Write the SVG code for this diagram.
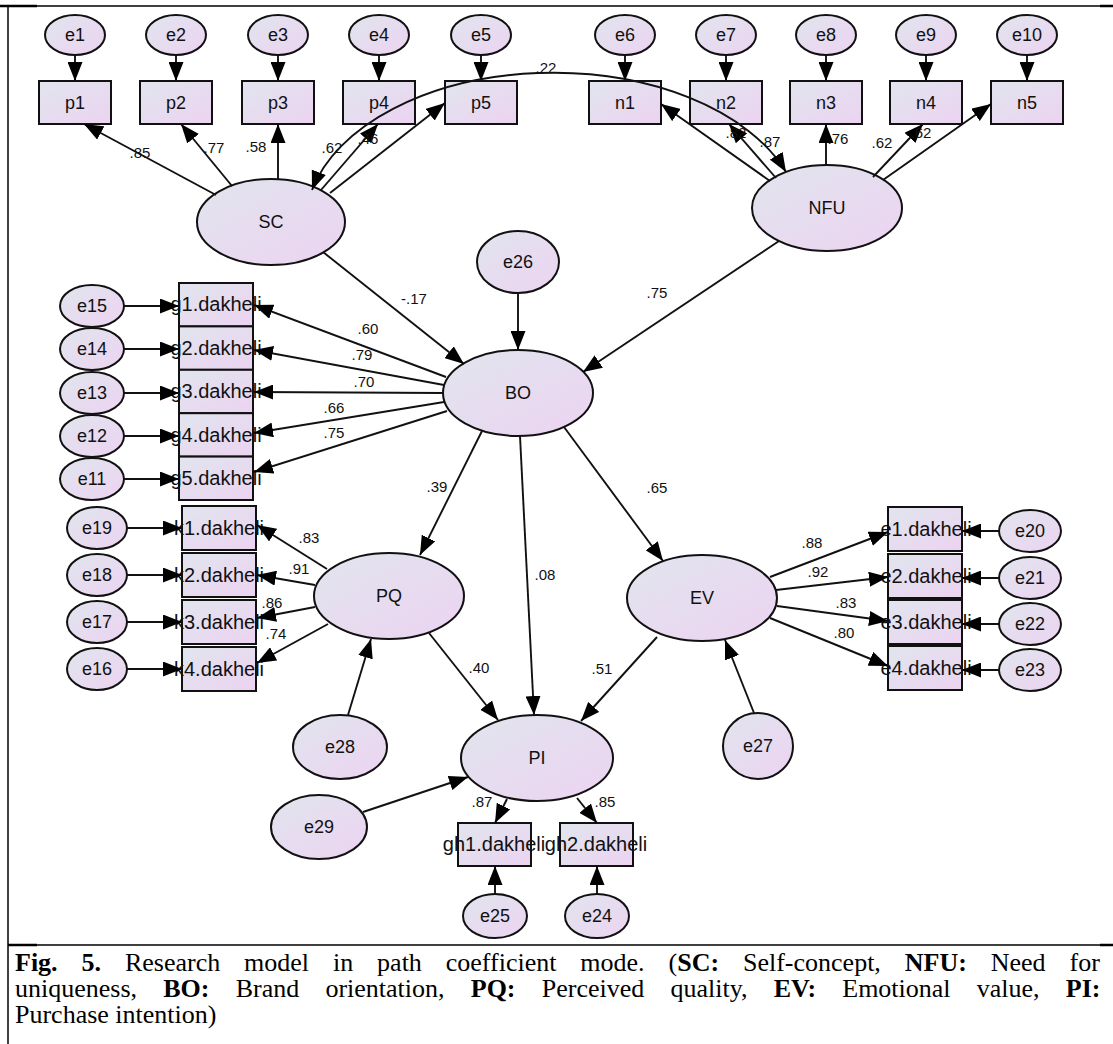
<svg xmlns="http://www.w3.org/2000/svg" width="1113" height="1044" viewBox="0 0 1113 1044">
<defs>
<linearGradient id="gf" x1="0" y1="0" x2="1" y2="1">
<stop offset="0" stop-color="#e1e5ee"/>
<stop offset="1" stop-color="#ecd3f1"/>
</linearGradient>
<marker id="ah" markerWidth="19" markerHeight="15" refX="19" refY="7.5" orient="auto" markerUnits="userSpaceOnUse">
<path d="M0,0 L19,7.5 L0,15 z" fill="#000"/>
</marker>
<marker id="ahs" markerWidth="19" markerHeight="15" refX="19" refY="7.5" orient="auto-start-reverse" markerUnits="userSpaceOnUse">
<path d="M0,0 L19,7.5 L0,15 z" fill="#000"/>
</marker>
</defs>
<style>
.n ellipse, .n rect { fill: url(#gf); stroke: #111; stroke-width: 2; }
.n text { font-family: "Liberation Sans", Arial, sans-serif; font-size: 18px; fill: #111; text-anchor: middle; }
.n text.b { font-size: 20px; }
.c line, .c path { stroke: #111; stroke-width: 1.9; fill: none; marker-end: url(#ah); }
.c path.cov { marker-start: url(#ahs); marker-end: url(#ahs); }
.lbl text { font-family: "Liberation Sans", Arial, sans-serif; font-size: 15px; fill: #111; text-anchor: middle; }
.cap { font-family: "Liberation Serif", "Times New Roman", serif; font-size: 26px; fill: #000; }
.frame { stroke: #000; fill: none; }
</style>
<rect x="0" y="0" width="1113" height="1044" fill="#fff"/>
<g id="frame">
<line class="frame" x1="8" y1="6" x2="1100" y2="6" stroke-width="1.5"/>
<line class="frame" x1="0" y1="6" x2="37" y2="6" stroke-width="2.5"/>
<line class="frame" x1="1100" y1="6" x2="1113" y2="6" stroke-width="2.5"/>
<line class="frame" x1="8" y1="6" x2="8" y2="1044" stroke-width="1.5"/>
<line class="frame" x1="8" y1="945" x2="1113" y2="945" stroke-width="1.5"/>
<line class="frame" x1="8" y1="945" x2="37" y2="945" stroke-width="2.5"/>
<line class="frame" x1="1100" y1="945" x2="1113" y2="945" stroke-width="2.5"/>
</g>
<g id="nodes" class="n">
<g id="e1"><ellipse cx="75" cy="35" rx="30" ry="20"/><text x="75" y="41">e1</text></g>
<g id="e2"><ellipse cx="176" cy="35" rx="30" ry="20"/><text x="176" y="41">e2</text></g>
<g id="e3"><ellipse cx="278" cy="35" rx="30" ry="20"/><text x="278" y="41">e3</text></g>
<g id="e4"><ellipse cx="379" cy="35" rx="30" ry="20"/><text x="379" y="41">e4</text></g>
<g id="e5"><ellipse cx="481" cy="35" rx="30" ry="20"/><text x="481" y="41">e5</text></g>
<g id="e6"><ellipse cx="625" cy="35" rx="30" ry="20"/><text x="625" y="41">e6</text></g>
<g id="e7"><ellipse cx="726" cy="35" rx="30" ry="20"/><text x="726" y="41">e7</text></g>
<g id="e8"><ellipse cx="826" cy="35" rx="30" ry="20"/><text x="826" y="41">e8</text></g>
<g id="e9"><ellipse cx="926" cy="35" rx="30" ry="20"/><text x="926" y="41">e9</text></g>
<g id="e10"><ellipse cx="1027" cy="35" rx="30" ry="20"/><text x="1027" y="41">e10</text></g>
<g id="p1"><rect x="39" y="81" width="72" height="43"/><text x="75" y="109">p1</text></g>
<g id="p2"><rect x="140" y="81" width="72" height="43"/><text x="176" y="109">p2</text></g>
<g id="p3"><rect x="242" y="81" width="72" height="43"/><text x="278" y="109">p3</text></g>
<g id="p4"><rect x="343" y="81" width="72" height="43"/><text x="379" y="109">p4</text></g>
<g id="p5"><rect x="445" y="81" width="72" height="43"/><text x="481" y="109">p5</text></g>
<g id="n1"><rect x="589" y="81" width="72" height="43"/><text x="625" y="109">n1</text></g>
<g id="n2"><rect x="690" y="81" width="72" height="43"/><text x="726" y="109">n2</text></g>
<g id="n3"><rect x="790" y="81" width="72" height="43"/><text x="826" y="109">n3</text></g>
<g id="n4"><rect x="890" y="81" width="72" height="43"/><text x="926" y="109">n4</text></g>
<g id="n5"><rect x="991" y="81" width="72" height="43"/><text x="1027" y="109">n5</text></g>
<g id="SC"><ellipse cx="271" cy="222" rx="74" ry="43"/><text x="271" y="228">SC</text></g>
<g id="NFU"><ellipse cx="827" cy="208" rx="75" ry="43"/><text x="827" y="214">NFU</text></g>
<g id="e26"><ellipse cx="518" cy="262" rx="41" ry="31"/><text x="518" y="268">e26</text></g>
<g id="BO"><ellipse cx="518" cy="393" rx="75" ry="43"/><text x="518" y="399">BO</text></g>
<g id="e15"><ellipse cx="92" cy="306" rx="32" ry="21"/><text x="92" y="312">e15</text></g>
<g id="e14"><ellipse cx="92" cy="349" rx="32" ry="21"/><text x="92" y="355">e14</text></g>
<g id="e13"><ellipse cx="92" cy="393" rx="32" ry="21"/><text x="92" y="399">e13</text></g>
<g id="e12"><ellipse cx="92" cy="436" rx="32" ry="21"/><text x="92" y="442">e12</text></g>
<g id="e11"><ellipse cx="92" cy="479" rx="32" ry="21"/><text x="92" y="485">e11</text></g>
<g id="g1"><rect x="179" y="283" width="74" height="43.4"/><text class="b" x="216" y="311">g1.dakheli</text></g>
<g id="g2"><rect x="179" y="326.4" width="74" height="43.4"/><text class="b" x="216" y="355">g2.dakheli</text></g>
<g id="g3"><rect x="179" y="369.8" width="74" height="43.4"/><text class="b" x="216" y="398">g3.dakheli</text></g>
<g id="g4"><rect x="179" y="413.2" width="74" height="43.4"/><text class="b" x="216" y="442">g4.dakheli</text></g>
<g id="g5"><rect x="179" y="456.6" width="74" height="43.4"/><text class="b" x="216" y="485">g5.dakheli</text></g>
<g id="e19"><ellipse cx="97" cy="528" rx="30" ry="21"/><text x="97" y="534">e19</text></g>
<g id="e18"><ellipse cx="97" cy="575" rx="30" ry="21"/><text x="97" y="581">e18</text></g>
<g id="e17"><ellipse cx="97" cy="622" rx="30" ry="21"/><text x="97" y="628">e17</text></g>
<g id="e16"><ellipse cx="97" cy="669" rx="30" ry="21"/><text x="97" y="675">e16</text></g>
<g id="k1"><rect x="182" y="506" width="74" height="44"/><text class="b" x="219" y="535">k1.dakheli</text></g>
<g id="k2"><rect x="182" y="553" width="74" height="44"/><text class="b" x="219" y="582">k2.dakheli</text></g>
<g id="k3"><rect x="182" y="600" width="74" height="44"/><text class="b" x="219" y="629">k3.dakheli</text></g>
<g id="k4"><rect x="182" y="647" width="74" height="44"/><text class="b" x="219" y="676">k4.dakheli</text></g>
<g id="PQ"><ellipse cx="389" cy="596" rx="75" ry="43"/><text x="389" y="602">PQ</text></g>
<g id="EV"><ellipse cx="702" cy="598" rx="75" ry="43"/><text x="702" y="604">EV</text></g>
<g id="eb1"><rect x="888" y="507" width="74" height="44"/><text class="b" x="926" y="536">e1.dakheli</text></g>
<g id="eb2"><rect x="888" y="554" width="74" height="44"/><text class="b" x="926" y="583">e2.dakheli</text></g>
<g id="eb3"><rect x="888" y="600" width="74" height="44"/><text class="b" x="926" y="629">e3.dakheli</text></g>
<g id="eb4"><rect x="888" y="646" width="74" height="44"/><text class="b" x="926" y="675">e4.dakheli</text></g>
<g id="e20"><ellipse cx="1030" cy="531" rx="31" ry="21"/><text x="1030" y="537">e20</text></g>
<g id="e21"><ellipse cx="1030" cy="578" rx="31" ry="21"/><text x="1030" y="584">e21</text></g>
<g id="e22"><ellipse cx="1030" cy="624" rx="31" ry="21"/><text x="1030" y="630">e22</text></g>
<g id="e23"><ellipse cx="1030" cy="670" rx="31" ry="21"/><text x="1030" y="676">e23</text></g>
<g id="PI"><ellipse cx="537" cy="758" rx="76" ry="43"/><text x="537" y="764">PI</text></g>
<g id="e28"><ellipse cx="340" cy="747" rx="47" ry="32"/><text x="340" y="753">e28</text></g>
<g id="e27"><ellipse cx="758" cy="746" rx="35" ry="33"/><text x="758" y="752">e27</text></g>
<g id="e29"><ellipse cx="319" cy="827" rx="48" ry="32"/><text x="319" y="833">e29</text></g>
<g id="gh1"><rect x="458" y="823" width="73" height="43"/><text class="b" x="494" y="851">gh1.dakheli</text></g>
<g id="gh2"><rect x="560" y="823" width="73" height="43"/><text class="b" x="596" y="851">gh2.dakheli</text></g>
<g id="e25"><ellipse cx="495" cy="916" rx="32" ry="22"/><text x="495" y="922">e25</text></g>
<g id="e24"><ellipse cx="597" cy="916" rx="32" ry="22"/><text x="597" y="922">e24</text></g>
</g>
<g id="connectors" class="c">
<line x1="75" y1="55" x2="75" y2="81"/>
<line x1="176" y1="55" x2="176" y2="81"/>
<line x1="278" y1="55" x2="278" y2="81"/>
<line x1="379" y1="55" x2="379" y2="81"/>
<line x1="481" y1="55" x2="481" y2="81"/>
<line x1="625" y1="55" x2="625" y2="81"/>
<line x1="726" y1="55" x2="726" y2="81"/>
<line x1="826" y1="55" x2="826" y2="81"/>
<line x1="926" y1="55" x2="926" y2="81"/>
<line x1="1027" y1="55" x2="1027" y2="81"/>
<line x1="216" y1="195" x2="84" y2="124"/>
<line x1="232" y1="186" x2="181" y2="124"/>
<line x1="278" y1="179" x2="278" y2="124"/>
<line x1="321" y1="190" x2="378" y2="124"/>
<line x1="330" y1="193" x2="445" y2="103"/>
<path class="cov" d="M312,190 A248,152 0 0 1 786,172"/>
<line x1="770" y1="181" x2="661" y2="104"/>
<line x1="776" y1="178" x2="729" y2="124"/>
<line x1="826" y1="165" x2="826" y2="124"/>
<line x1="873" y1="177" x2="923" y2="124"/>
<line x1="883" y1="180" x2="991" y2="104"/>
<line x1="323" y1="252" x2="464" y2="364"/>
<line x1="518" y1="293" x2="518" y2="350"/>
<line x1="779" y1="241" x2="583" y2="372"/>
<line x1="446" y1="377" x2="254" y2="305"/>
<line x1="444" y1="385" x2="254" y2="350"/>
<line x1="443" y1="393" x2="254" y2="392"/>
<line x1="444" y1="402" x2="254" y2="433"/>
<line x1="447" y1="411" x2="254" y2="472"/>
<line x1="124" y1="306" x2="179" y2="306"/>
<line x1="124" y1="349" x2="179" y2="349"/>
<line x1="124" y1="393" x2="179" y2="393"/>
<line x1="124" y1="436" x2="179" y2="436"/>
<line x1="124" y1="479" x2="179" y2="479"/>
<line x1="482" y1="431" x2="420" y2="555"/>
<line x1="520" y1="436" x2="534" y2="715"/>
<line x1="564" y1="427" x2="663" y2="561"/>
<line x1="327" y1="569" x2="257" y2="525"/>
<line x1="315" y1="585" x2="257" y2="575"/>
<line x1="315" y1="607" x2="257" y2="618"/>
<line x1="328" y1="624" x2="257" y2="663"/>
<line x1="127" y1="528" x2="182" y2="528"/>
<line x1="127" y1="575" x2="182" y2="575"/>
<line x1="127" y1="622" x2="182" y2="622"/>
<line x1="127" y1="669" x2="182" y2="669"/>
<line x1="429" y1="633" x2="498" y2="720"/>
<line x1="348" y1="715" x2="371" y2="639"/>
<line x1="770" y1="577" x2="888" y2="532"/>
<line x1="776" y1="590" x2="888" y2="577"/>
<line x1="777" y1="606" x2="888" y2="621"/>
<line x1="770" y1="618" x2="888" y2="666"/>
<line x1="999" y1="531" x2="962" y2="531"/>
<line x1="999" y1="578" x2="962" y2="578"/>
<line x1="999" y1="624" x2="962" y2="624"/>
<line x1="999" y1="670" x2="962" y2="670"/>
<line x1="657" y1="637" x2="581" y2="721"/>
<line x1="754" y1="713" x2="725" y2="640"/>
<line x1="363" y1="812" x2="468" y2="777"/>
<line x1="507" y1="799" x2="495" y2="823"/>
<line x1="577" y1="798" x2="597" y2="823"/>
<line x1="495" y1="894" x2="495" y2="866"/>
<line x1="597" y1="894" x2="597" y2="866"/>
</g>
<g id="labels" class="lbl">
<text x="140" y="158">.85</text>
<text x="214" y="153">.77</text>
<text x="256" y="152">.58</text>
<text x="332" y="153">.62</text>
<text x="368" y="144">.46</text>
<text x="546" y="73">.22</text>
<text x="736" y="138">.82</text>
<text x="770" y="147">.87</text>
<text x="838" y="144">.76</text>
<text x="882" y="148">.62</text>
<text x="921" y="138">.62</text>
<text x="414" y="304">-.17</text>
<text x="368" y="334">.60</text>
<text x="362" y="360">.79</text>
<text x="364" y="387">.70</text>
<text x="334" y="413">.66</text>
<text x="334" y="438">.75</text>
<text x="657" y="298">.75</text>
<text x="437" y="492">.39</text>
<text x="545" y="580">.08</text>
<text x="657" y="493">.65</text>
<text x="309" y="543">.83</text>
<text x="299" y="574">.91</text>
<text x="272" y="608">.86</text>
<text x="276" y="639">.74</text>
<text x="479" y="673">.40</text>
<text x="602" y="674">.51</text>
<text x="812" y="548">.88</text>
<text x="818" y="577">.92</text>
<text x="846" y="608">.83</text>
<text x="844" y="638">.80</text>
<text x="482" y="807">.87</text>
<text x="605" y="807">.85</text>
</g>
<g id="caption">
<text class="cap" x="15" y="971" word-spacing="17.4"><tspan font-weight="bold">Fig. 5.</tspan> Research model in path coefficient mode. (<tspan font-weight="bold">SC:</tspan> Self-concept, <tspan font-weight="bold">NFU:</tspan> Need for</text>
<text class="cap" x="15" y="997" word-spacing="19.7">uniqueness, <tspan font-weight="bold">BO:</tspan> Brand orientation, <tspan font-weight="bold">PQ:</tspan> Perceived quality, <tspan font-weight="bold">EV:</tspan> Emotional value, <tspan font-weight="bold">PI:</tspan></text>
<text class="cap" x="15" y="1023">Purchase intention)</text>
</g>
</svg>
